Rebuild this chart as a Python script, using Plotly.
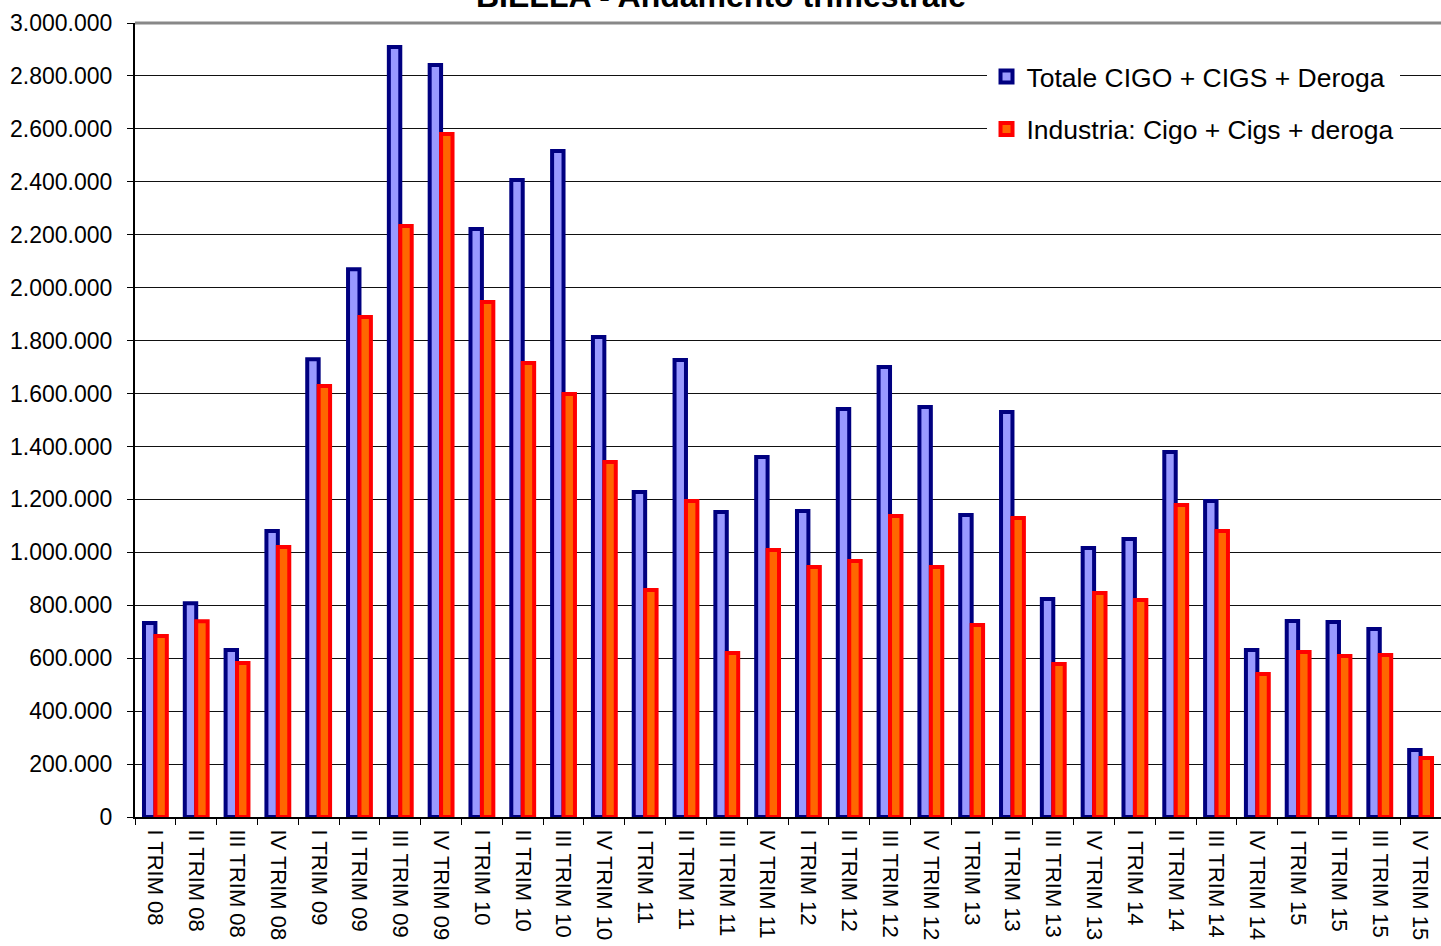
import plotly.graph_objects as go

categories = [
    "I TRIM 08", "II TRIM 08", "III TRIM 08", "IV TRIM 08",
    "I TRIM 09", "II TRIM 09", "III TRIM 09", "IV TRIM 09",
    "I TRIM 10", "II TRIM 10", "III TRIM 10", "IV TRIM 10",
    "I TRIM 11", "II TRIM 11", "III TRIM 11", "IV TRIM 11",
    "I TRIM 12", "II TRIM 12", "III TRIM 12", "IV TRIM 12",
    "I TRIM 13", "II TRIM 13", "III TRIM 13", "IV TRIM 13",
    "I TRIM 14", "II TRIM 14", "III TRIM 14", "IV TRIM 14",
    "I TRIM 15", "II TRIM 15", "III TRIM 15", "IV TRIM 15",
]

totale = [
    733000, 808000, 631000, 1081000,
    1730000, 2070000, 2909000, 2841000,
    2222000, 2407000, 2516000, 1814000,
    1228000, 1727000, 1152000, 1360000,
    1156000, 1542000, 1700000, 1549000,
    1141000, 1530000, 824000, 1016000,
    1050000, 1379000, 1194000, 631000,
    741000, 737000, 710000, 253000,
]

industria = [
    684000, 740000, 582000, 1020000,
    1628000, 1889000, 2233000, 2581000,
    1946000, 1715000, 1598000, 1341000,
    858000, 1194000, 620000, 1009000,
    945000, 967000, 1137000, 945000,
    725000, 1130000, 578000, 846000,
    820000, 1179000, 1081000, 540000,
    623000, 608000, 612000, 223000,
]

series_names = ["Totale CIGO + CIGS + Deroga", "Industria: Cigo + Cigs + deroga"]
title_text = "BIELLA - Andamento trimestrale"

FONT = "Liberation Sans, Arial, sans-serif"

fig = go.Figure()
fig.add_trace(go.Bar(
    x=categories, y=totale, name=series_names[0], legendgroup="a",
    marker=dict(color="#9999FF", line=dict(color="#000080", width=4)),
))
fig.add_trace(go.Bar(
    x=categories, y=industria, name=series_names[1], legendgroup="b",
    marker=dict(color="#FF6600", line=dict(color="#FF0000", width=4)),
))

fig.update_layout(
    width=1441, height=946,
    margin=dict(l=135, r=0, t=23, b=129),
    paper_bgcolor="white", plot_bgcolor="white",
    separators=",.",
    font=dict(family=FONT, color="black"),
    barmode="group", bargap=0.44, bargroupgap=0.0,
    legend=dict(x=0.652, y=0.9625, xanchor="left", yanchor="top",
                bgcolor="white", borderwidth=0,
                font=dict(size=26.5, family=FONT, color="black"),
                traceorder="grouped", tracegroupgap=15),
    showlegend=True,
)

fig.add_annotation(
    text="<b>" + title_text + "</b>", xref="paper", yref="paper",
    x=0.5, y=1.0, xanchor="center", yanchor="middle",
    xshift=-67, yshift=27, showarrow=False,
    font=dict(size=32, family=FONT, color="black"),
)

fig.update_yaxes(
    range=[0, 3000000], dtick=200000, tickformat=",d",
    showgrid=True, gridcolor="#111111", gridwidth=1,
    showline=True, linecolor="black", linewidth=2,
    ticks="outside", ticklen=6, tickcolor="black", tickwidth=1,
    tickfont=dict(size=23, family=FONT, color="black"),
    ticklabelstandoff=10, zeroline=False,
)
fig.update_xaxes(
    type="category", tickangle=90,
    showline=True, linecolor="black", linewidth=2,
    ticks="outside", tickson="boundaries", ticklen=6, tickcolor="black",
    tickfont=dict(size=22, family=FONT, color="black"),
    ticklabelstandoff=6,
    showgrid=False,
)

fig.add_shape(type="line", xref="paper", yref="paper", x0=0, x1=1, y0=1, y1=1,
              line=dict(color="#888888", width=3))

fig.write_html("out.html",
               config={"displayModeBar": False},
               post_script="document.body.style.margin='0';document.body.style.overflow='hidden';")
